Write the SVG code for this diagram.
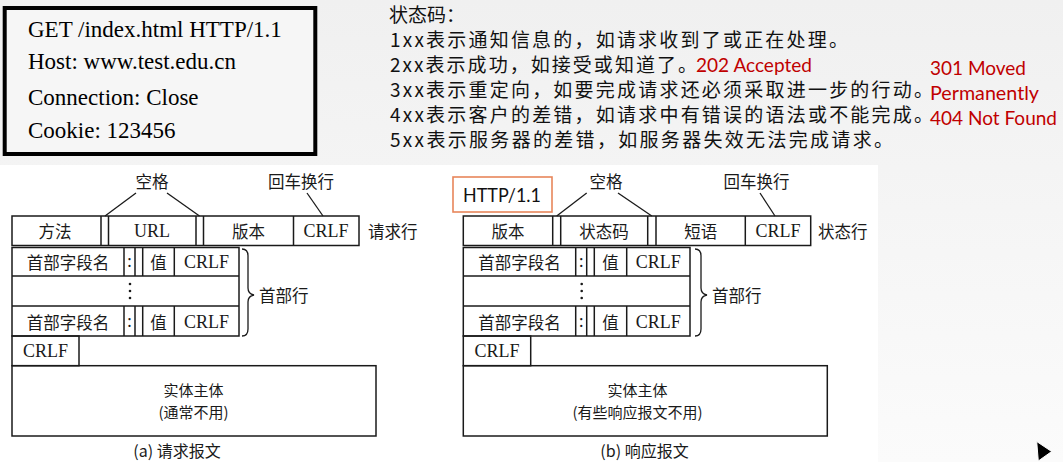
<svg xmlns="http://www.w3.org/2000/svg" width="1063" height="462" viewBox="0 0 1063 462">
<defs>
<linearGradient id="bg" x1="0" y1="0" x2="0" y2="1">
<stop offset="0" stop-color="#f0f0f0"/>
<stop offset="1" stop-color="#fbfbfb"/>
</linearGradient>
<style>
.cell{fill:none;stroke:#1a1a1a;stroke-width:1.5}
.ln{fill:none;stroke:#1a1a1a;stroke-width:1.3}
.cj{font-family:"Noto Sans CJK SC","Noto Sans",sans-serif;font-size:16.5px;fill:#1a1a1a;text-anchor:middle;dominant-baseline:central}
.cjl{font-family:"Noto Sans CJK SC","Noto Sans",sans-serif;font-size:16.5px;fill:#1a1a1a;dominant-baseline:central}
.body{font-family:"Noto Sans CJK SC","Noto Sans",sans-serif;font-size:15px;fill:#1a1a1a;text-anchor:middle}
.cap{font-family:"Noto Sans CJK SC","Noto Sans",sans-serif;font-size:16px;fill:#1a1a1a;text-anchor:middle}
.lt{font-family:"Liberation Serif","Times New Roman",serif;font-size:18px;fill:#1a1a1a;text-anchor:middle;dominant-baseline:central}
.req{font-family:"Liberation Serif","Times New Roman",serif;font-size:23px;fill:#000}
.st{font-family:"Noto Sans CJK SC","Noto Sans",sans-serif;font-size:19px;fill:#111}
.red{font-family:Lato,"Noto Sans",sans-serif;font-size:19px;fill:#c00000}
.dot{fill:#1a1a1a}
</style>
</defs>
<rect x="0" y="0" width="1063" height="462" fill="url(#bg)"/>
<rect x="0" y="165" width="878" height="297" fill="#ffffff"/>

<g id="request-example">
<rect x="4.7" y="8" width="310.6" height="146" fill="#f6f6f6" stroke="#000" stroke-width="4"/>
<text class="req" x="28" y="37">GET /index.html HTTP/1.1</text>
<text class="req" x="28" y="69">Host: www.test.edu.cn</text>
<text class="req" x="28" y="105">Connection: Close</text>
<text class="req" x="28" y="137.5">Cookie: 123456</text>
</g>

<g id="status-codes">
<text class="st" x="389" y="22">状态码：</text>
<text class="st" x="390" y="47" textLength="458" lengthAdjust="spacing">1xx表示通知信息的，如请求收到了或正在处理。</text>
<text class="st" x="390" y="72" textLength="307" lengthAdjust="spacing">2xx表示成功，如接受或知道了。</text>
<text class="st" x="390" y="97" textLength="543" lengthAdjust="spacing">3xx表示重定向，如要完成请求还必须采取进一步的行动。</text>
<text class="st" x="390" y="122" textLength="543" lengthAdjust="spacing">4xx表示客户的差错，如请求中有错误的语法或不能完成。</text>
<text class="st" x="390" y="147" textLength="503" lengthAdjust="spacing">5xx表示服务器的差错，如服务器失效无法完成请求。</text>
<text class="red" x="696" y="72" textLength="116" lengthAdjust="spacingAndGlyphs">202 Accepted</text>
<text class="red" x="930" y="75" textLength="96" lengthAdjust="spacingAndGlyphs">301 Moved</text>
<text class="red" x="930" y="100" textLength="109" lengthAdjust="spacingAndGlyphs">Permanently</text>
<text class="red" x="930" y="125" textLength="127" lengthAdjust="spacingAndGlyphs">404 Not Found</text>
</g>

<!-- Request message (a) -->
<g id="request-line">
<rect class="cell" x="12" y="216" width="347" height="29.5"/>
<line class="cell" x1="101" y1="216" x2="101" y2="245.5"/>
<line class="cell" x1="108.5" y1="216" x2="108.5" y2="245.5"/>
<line class="cell" x1="196" y1="216" x2="196" y2="245.5"/>
<line class="cell" x1="203.5" y1="216" x2="203.5" y2="245.5"/>
<line class="cell" x1="293.5" y1="216" x2="293.5" y2="245.5"/>
<text class="cj" x="55" y="231">方法</text>
<text class="lt" x="152" y="231">URL</text>
<text class="cj" x="248.5" y="231">版本</text>
<text class="lt" x="326" y="231">CRLF</text>
<text class="cjl" x="368" y="231">请求行</text>
</g>
<g id="request-labels">
<text class="cj" x="152" y="181">空格</text>
<text class="cj" x="301" y="181">回车换行</text>
</g>
<g id="request-headers">
<rect class="cell" x="12" y="247.5" width="227" height="88.5"/>
<line class="cell" x1="12" y1="276" x2="239" y2="276"/>
<line class="cell" x1="12" y1="306" x2="239" y2="306"/>
<line class="cell" x1="124" y1="247.5" x2="124" y2="276"/>
<line class="cell" x1="135" y1="247.5" x2="135" y2="276"/>
<line class="cell" x1="142.7" y1="247.5" x2="142.7" y2="276"/>
<line class="cell" x1="174.3" y1="247.5" x2="174.3" y2="276"/>
<line class="cell" x1="124" y1="306" x2="124" y2="336"/>
<line class="cell" x1="135" y1="306" x2="135" y2="336"/>
<line class="cell" x1="142.7" y1="306" x2="142.7" y2="336"/>
<line class="cell" x1="174.3" y1="306" x2="174.3" y2="336"/>
<text class="cj" x="68" y="262">首部字段名</text>
<text class="lt" x="129.5" y="261">:</text>
<text class="cj" x="158.5" y="262">值</text>
<text class="lt" x="206.5" y="262">CRLF</text>
<circle class="dot" cx="130" cy="284" r="1.3"/>
<circle class="dot" cx="130" cy="291" r="1.3"/>
<circle class="dot" cx="130" cy="298" r="1.3"/>
<text class="cj" x="68" y="321.5">首部字段名</text>
<text class="lt" x="129.5" y="320.5">:</text>
<text class="cj" x="158.5" y="321.5">值</text>
<text class="lt" x="206.5" y="321.5">CRLF</text>
<path class="ln" d="M242,249 Q248,249 248,256 L248,288 Q248,294 254,295 Q248,296 248,302 L248,329 Q248,336 242,336"/>
<text class="cjl" x="259" y="295">首部行</text>
</g>
<g id="request-crlf">
<rect class="cell" x="12" y="336" width="67" height="29.7"/>
<text class="lt" x="45.5" y="351">CRLF</text>
</g>
<g id="request-body">
<rect class="cell" x="12" y="365.7" width="364" height="70.3"/>
<text class="body" x="193.5" y="395.5">实体主体</text>
<text class="body" x="193.5" y="418">(通常不用)</text>
</g>
<g id="request-caption">
<text class="cap" x="177" y="457">(a) 请求报文</text>
</g>

<!-- Response message (b) -->
<g id="http-version-note">
<rect x="453" y="177" width="99" height="35" fill="#ffffff" stroke="#e8865a" stroke-width="1.6"/>
<text x="463" y="201.5" font-family="Lato,'Noto Sans',sans-serif" font-size="20px" fill="#111" textLength="78" lengthAdjust="spacingAndGlyphs">HTTP/1.1</text>
</g>
<g id="status-line">
<rect class="cell" x="463.3" y="216" width="347.4" height="29.5"/>
<line class="cell" x1="552.7" y1="216" x2="552.7" y2="245.5"/>
<line class="cell" x1="560.7" y1="216" x2="560.7" y2="245.5"/>
<line class="cell" x1="647.7" y1="216" x2="647.7" y2="245.5"/>
<line class="cell" x1="656" y1="216" x2="656" y2="245.5"/>
<line class="cell" x1="745.3" y1="216" x2="745.3" y2="245.5"/>
<text class="cj" x="508" y="231">版本</text>
<text class="cj" x="604" y="231">状态码</text>
<text class="cj" x="700.7" y="231">短语</text>
<text class="lt" x="778" y="231">CRLF</text>
<text class="cjl" x="818" y="231">状态行</text>
</g>
<g id="response-labels">
<text class="cj" x="606" y="181">空格</text>
<text class="cj" x="756.5" y="181">回车换行</text>
</g>
<g id="response-headers">
<rect class="cell" x="463.3" y="247.5" width="226.7" height="88.5"/>
<line class="cell" x1="463.3" y1="276" x2="690" y2="276"/>
<line class="cell" x1="463.3" y1="306" x2="690" y2="306"/>
<line class="cell" x1="575.7" y1="247.5" x2="575.7" y2="276"/>
<line class="cell" x1="586.7" y1="247.5" x2="586.7" y2="276"/>
<line class="cell" x1="594.3" y1="247.5" x2="594.3" y2="276"/>
<line class="cell" x1="626.7" y1="247.5" x2="626.7" y2="276"/>
<line class="cell" x1="575.7" y1="306" x2="575.7" y2="336"/>
<line class="cell" x1="586.7" y1="306" x2="586.7" y2="336"/>
<line class="cell" x1="594.3" y1="306" x2="594.3" y2="336"/>
<line class="cell" x1="626.7" y1="306" x2="626.7" y2="336"/>
<text class="cj" x="519.5" y="262">首部字段名</text>
<text class="lt" x="581.2" y="261">:</text>
<text class="cj" x="610.5" y="262">值</text>
<text class="lt" x="658.3" y="262">CRLF</text>
<circle class="dot" cx="581.7" cy="284" r="1.3"/>
<circle class="dot" cx="581.7" cy="291" r="1.3"/>
<circle class="dot" cx="581.7" cy="298" r="1.3"/>
<text class="cj" x="519.5" y="321.5">首部字段名</text>
<text class="lt" x="581.2" y="320.5">:</text>
<text class="cj" x="610.5" y="321.5">值</text>
<text class="lt" x="658.3" y="321.5">CRLF</text>
<path class="ln" d="M695,249 Q701,249 701,256 L701,288 Q701,294 707,295 Q701,296 701,302 L701,329 Q701,336 695,336"/>
<text class="cjl" x="712" y="295">首部行</text>
</g>
<g id="response-crlf">
<rect class="cell" x="463.3" y="336" width="67.4" height="29.7"/>
<text class="lt" x="497" y="351">CRLF</text>
</g>
<g id="response-body">
<rect class="cell" x="463.3" y="365.7" width="364" height="70.3"/>
<text class="body" x="637.5" y="395.5">实体主体</text>
<text class="body" x="637.5" y="418">(有些响应报文不用)</text>
</g>
<g id="response-caption">
<text class="cap" x="644.5" y="457">(b) 响应报文</text>
</g>

<g id="connectors">
<line class="ln" x1="105" y1="216" x2="136" y2="193"/>
<line class="ln" x1="167" y1="193" x2="199.5" y2="216"/>
<line class="ln" x1="307" y1="193" x2="323" y2="216"/>
<line class="ln" x1="556.7" y1="216" x2="586.7" y2="193"/>
<line class="ln" x1="618" y1="193" x2="651.8" y2="216"/>
<line class="ln" x1="760" y1="193" x2="775" y2="216"/>
</g>

<g id="cursor">
<path d="M1036.7,441.5 L1051.7,451.5 L1038.3,461 Z" fill="#000" stroke="#ffffff" stroke-width="1"/>
</g>
</svg>
